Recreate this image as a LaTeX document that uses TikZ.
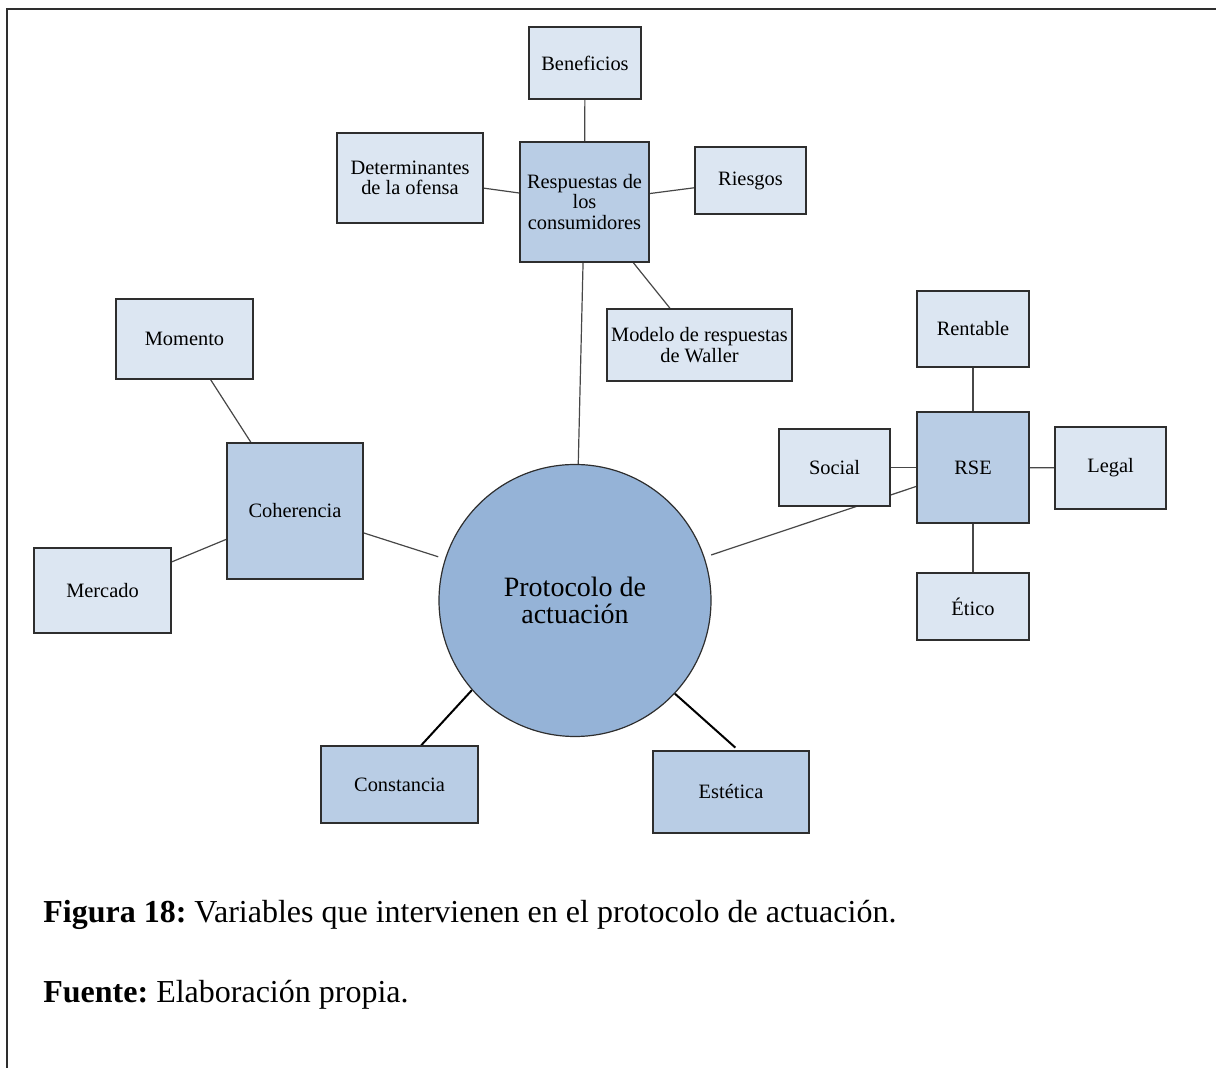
\documentclass[tikz,border=0pt]{standalone}
\usepackage{fontspec}
\setmainfont{Liberation Serif}
\usetikzlibrary{backgrounds}
\frenchspacing

\definecolor{claro}{HTML}{DCE6F2}
\definecolor{medio}{HTML}{B9CDE5}
\definecolor{fuerte}{HTML}{95B3D7}
\definecolor{borde}{HTML}{2E2E2E}
\definecolor{linea}{HTML}{474747}

\tikzset{
 hoja/.style={draw=borde, fill=claro, line width=0.7pt, inner sep=0pt, align=center, font=\fontsize{10.2}{10.3}\selectfont},
 rama/.style={hoja, fill=medio},
 enlace/.style={draw=linea, line width=0.6pt},
 enlacenegro/.style={draw=black, line width=1pt}
}

\begin{document}
\begin{tikzpicture}[x=0.5pt,y=-0.5pt]
 \useasboundingbox (0,0) rectangle (1216,1068);
 \draw[line width=0.9pt, borde] (7,1068) -- (7,9) -- (1216,9);

 \node[circle, draw=borde, fill=fuerte, line width=0.6pt, minimum size=136pt, inner sep=0pt, align=center, font=\fontsize{14}{13.5}\selectfont] (circ) at (575,600.5) {Protocolo de\\actuación};

 \node[rama, minimum width=64.5pt, minimum height=60pt] (resp) at (584.5,202) {Respuestas de\\los\\consumidores};
 \node[hoja, minimum width=56pt, minimum height=36pt] (benef) at (585,63) {Beneficios};
 \node[hoja, minimum width=73pt, minimum height=45pt] (determ) at (410,178) {Determinantes\\de la ofensa};
 \node[hoja, minimum width=55.5pt, minimum height=33.5pt] (riesgos) at (750.5,180.5) {Riesgos};
 \node[hoja, minimum width=92.5pt, minimum height=36pt] (modelo) at (699.5,345) {Modelo de respuestas\\de Waller};

 \node[rama, minimum width=68pt, minimum height=68pt] (coh) at (295,511) {Coherencia};
 \node[hoja, minimum width=68.5pt, minimum height=40pt] (momento) at (184.5,339) {Momento};
 \node[hoja, minimum width=68.5pt, minimum height=42.5pt] (mercado) at (102.5,590.5) {Mercado};

 \node[rama, minimum width=56pt, minimum height=55.5pt] (rse) at (973,467.5) {RSE};
 \node[hoja, minimum width=56pt, minimum height=38pt] (rentable) at (973,329) {Rentable};
 \node[hoja, minimum width=55.5pt, minimum height=38.5pt] (social) at (834.5,467.5) {Social};
 \node[hoja, minimum width=55.5pt, minimum height=41pt] (legal) at (1110.5,468) {Legal};
 \node[hoja, minimum width=56pt, minimum height=33.5pt] (etico) at (973,606.5) {Ético};

 \node[rama, minimum width=78.5pt, minimum height=38.5pt] (const) at (399.5,784.5) {Constancia};
 \node[rama, minimum width=78pt, minimum height=41pt] (estet) at (731,792) {Estética};

 \begin{pgfonlayer}{background}
 \draw[enlace] (benef) -- (resp);
 \draw[enlace] (determ) -- (resp);
 \draw[enlace] (resp) -- (riesgos);
 \draw[enlace] (resp) -- (modelo);
 \draw[enlace] (resp) -- (circ);
 \draw[enlace] (momento) -- (coh);
 \draw[enlace] (mercado) -- (coh);
 \draw[enlace, shorten >=3.5pt] (coh) -- (circ);
 \draw[enlace, shorten <=3.5pt] (circ) -- (rse);
 \draw[enlace] (rentable) -- (rse);
 \draw[enlace] (rse) -- (etico);
 \draw[enlace] (social) -- (rse);
 \draw[enlace] (rse) -- (legal);
 \draw[enlacenegro] (circ.-139.6) -- (const.61);
 \draw[enlacenegro, shorten >=2pt] (circ.-43) -- (estet.80);
 \end{pgfonlayer}

 \node[anchor=base west, inner sep=0pt, font=\fontsize{16}{19}\selectfont] (figura) at (43,922) {\textbf{Figura 18:} Variables que intervienen en el protocolo de actuación.};
 \node[anchor=base west, inner sep=0pt, font=\fontsize{16}{19}\selectfont] (fuente) at (43,1002) {\textbf{Fuente:} Elaboración propia.};
\end{tikzpicture}
\end{document}
